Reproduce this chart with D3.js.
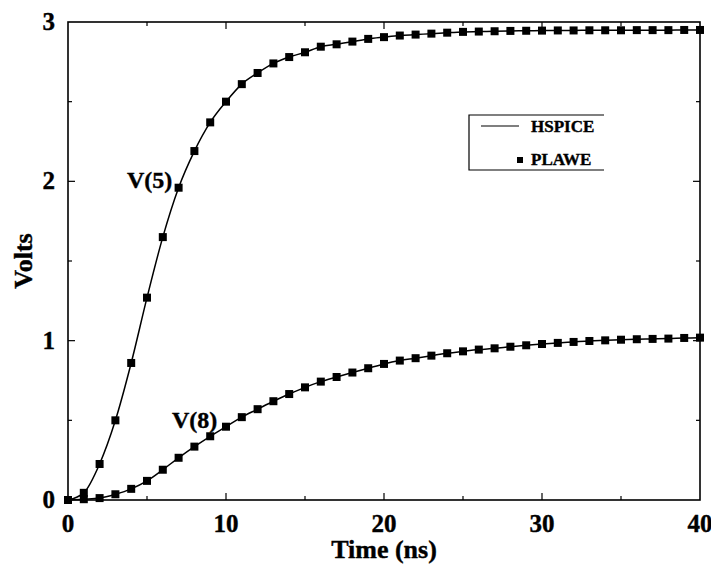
<!DOCTYPE html>
<html>
<head>
<meta charset="utf-8">
<script src="https://cdn.jsdelivr.net/npm/d3@7"></script>
<style>
body{margin:0;background:#fff;}
text{font-family:"Times New Roman",Times,"Liberation Serif",serif;font-weight:bold;fill:#000;stroke:#000;stroke-width:0.4;}
</style>
</head>
<body>
<script>
// time points (ns)
const time=[0,1,2,3,4,5,6,7,8,9,10,11,12,13,14,15,16,17,18,19,20,
    21,22,23,24,25,26,27,28,29,30,31,32,33,34,35,36,37,38,39,40];
// node voltages
const v5=[0,0.045,0.226,0.50,0.86,1.27,1.65,1.96,2.19,2.37,2.50,2.61,2.68,2.74,2.78,2.81,
    2.845,2.86,2.877,2.894,2.905,2.915,2.921,2.927,2.933,2.938,2.94,2.942,2.944,2.945,
    2.946,2.947,2.947,2.948,2.948,2.948,2.949,2.949,2.949,2.95,2.95];
const v8=[0,0.005,0.012,0.036,0.07,0.12,0.19,0.265,0.335,0.40,0.46,0.52,0.57,0.62,0.665,
    0.707,0.743,0.772,0.80,0.827,0.854,0.875,0.89,0.906,0.921,0.933,0.944,0.952,0.962,
    0.971,0.979,0.986,0.992,0.998,1.002,1.006,1.009,1.011,1.013,1.017,1.019];
const xTicks=[0,10,20,30,40], xMinor=[5,15,25,35];
const yTicks=[0,1,2,3], yMinor=[0.5,1.5,2.5];
const series=[{name:'V(5)',vals:v5,lx:127,ly:188},{name:'V(8)',vals:v8,lx:172,ly:428}];
const legendNames=['HSPICE','PLAWE'];

const W=711,H=571;
const x=d3.scaleLinear().domain([0,40]).range([68,700]);
const y=d3.scaleLinear().domain([0,3]).range([500,22]);

const svg=d3.select('body').append('svg').attr('width',W).attr('height',H);

// frame
svg.append('rect')
    .attr('x',x(0)).attr('y',y(3))
    .attr('width',x(40)-x(0)).attr('height',y(0)-y(3))
    .attr('fill','none').attr('stroke','#000').attr('stroke-width',1.6);

let ticks=svg.append('g').attr('stroke','#000').attr('stroke-width',1.2);
xTicks.slice(1,-1).concat(xMinor).forEach(t=>{
    let len=xMinor.includes(t)?4:7;
    ticks.append('line').attr('x1',x(t)).attr('x2',x(t)).attr('y1',y(0)).attr('y2',y(0)-len);
    ticks.append('line').attr('x1',x(t)).attr('x2',x(t)).attr('y1',y(3)).attr('y2',y(3)+len);
});
yTicks.slice(1,-1).concat(yMinor).forEach(v=>{
    let len=yMinor.includes(v)?4:7;
    ticks.append('line').attr('y1',y(v)).attr('y2',y(v)).attr('x1',x(0)).attr('x2',x(0)+len);
    ticks.append('line').attr('y1',y(v)).attr('y2',y(v)).attr('x1',x(40)).attr('x2',x(40)-len);
});

// tick labels
svg.append('g').selectAll('text').data(xTicks).enter().append('text')
    .attr('x',d=>x(d)).attr('y',y(0)+32)
    .attr('text-anchor','middle').attr('font-size',25)
    .text(d=>d);
svg.append('g').selectAll('text').data(yTicks).enter().append('text')
    .attr('x',x(0)-13).attr('y',d=>y(d)+8)
    .attr('text-anchor','end').attr('font-size',25)
    .text(d=>d);

// axis titles
svg.append('text').attr('x',(x(0)+x(40))/2).attr('y',558)
    .attr('text-anchor','middle').attr('font-size',26).text('Time (ns)');
svg.append('text').attr('transform','translate(32,'+((y(0)+y(3))/2)+') rotate(-90)')
    .attr('text-anchor','middle').attr('font-size',26).text('Volts');

// HSPICE curves + PLAWE markers
let line=d3.line().x((d,i)=>x(time[i])).y(d=>y(d)).curve(d3.curveMonotoneX);
series.forEach(s=>{
    svg.append('path').attr('d',line(s.vals))
        .attr('fill','none').attr('stroke','#000').attr('stroke-width',1.5);
    svg.append('g').selectAll('rect').data(s.vals).enter().append('rect')
        .attr('x',(d,i)=>x(time[i])-4).attr('y',d=>y(d)-4)
        .attr('width',8).attr('height',8).attr('fill','#000');
    svg.append('text').attr('x',s.lx).attr('y',s.ly).attr('font-size',24).text(s.name);
});

// legend
let lg=svg.append('g');
lg.append('path').attr('d','M604,115H469V170H604')
    .attr('fill','none').attr('stroke','#000').attr('stroke-width',1.2);
lg.append('line').attr('x1',481).attr('x2',519).attr('y1',126).attr('y2',126)
    .attr('stroke','#000').attr('stroke-width',1.2);
lg.append('rect').attr('x',517).attr('y',157).attr('width',6).attr('height',6).attr('fill','#000');
lg.selectAll('text').data(legendNames).enter().append('text')
    .attr('x',531).attr('y',(d,i)=>132+i*33)
    .attr('font-size',17).text(d=>d);
</script>
</body>
</html>
